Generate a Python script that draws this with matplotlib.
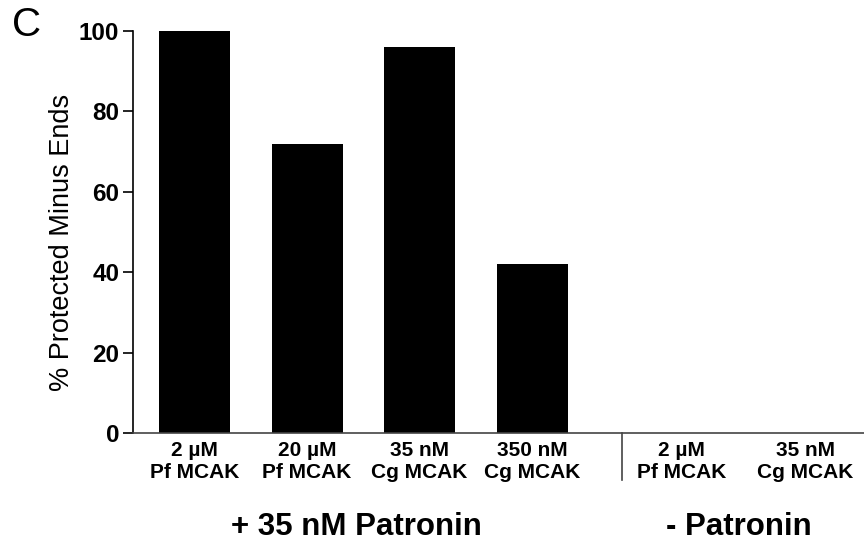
import matplotlib
matplotlib.use("Agg")
import matplotlib.pyplot as plt

# data
labels = ["2 µM\nPf MCAK", "20 µM\nPf MCAK", "35 nM\nCg MCAK", "350 nM\nCg MCAK",
          "2 µM\nPf MCAK", "35 nM\nCg MCAK"]
protected = [100, 72, 96, 42, 0, 0]
groups = ["+ 35 nM Patronin", "- Patronin"]
yticks = [0, 20, 40, 60, 80, 100]

plt.rcParams['font.family'] = ['Liberation Sans', 'DejaVu Sans']

fig = plt.figure(figsize=(8.64, 5.46), dpi=100)
ax = fig.add_axes([0.154, 0.207, 0.846, 0.736])

xpos = [0, 1, 2, 3, 4.33, 5.43]
ax.bar(xpos, protected, width=0.63, color="black")

ax.set_xlim(-0.547, 5.95)
ax.set_ylim(0, 100)
ax.set_yticks(yticks)
ax.set_yticklabels([str(v) for v in yticks], fontsize=17.5, fontweight="bold")
ax.set_xticks(xpos)
ax.set_xticklabels(labels, fontsize=15, fontweight="bold", linespacing=1.2)
ax.tick_params(axis="x", length=0, pad=6)
ax.tick_params(axis="y", direction="out", length=7, width=1.2, pad=3)

ax.spines["top"].set_visible(False)
ax.spines["right"].set_visible(False)
ax.spines["left"].set_linewidth(1.2)
ax.spines["bottom"].set_linewidth(1.2)
ax.spines["bottom"].set_color("#444444")

fig.text(62.5 / 864, 1 - 242.5 / 546, "% Protected Minus Ends", fontsize=19.5,
         rotation=90, ha="center", va="center")

# separator between the two groups
fig.add_artist(plt.Line2D([622 / 864, 622 / 864], [1 - 433 / 546, 1 - 480 / 546],
                          color="#444444", lw=1.2))

fig.text(356 / 864, 1 - 527 / 546, groups[0], fontsize=22.5, fontweight="bold",
         ha="center", va="center")
fig.text(739 / 864, 1 - 527 / 546, groups[1], fontsize=22.5, fontweight="bold",
         ha="center", va="center")
fig.text(27 / 864, 1 - 25 / 546, "C", fontsize=29, ha="center", va="center")

fig.savefig("out.png", dpi=100)
